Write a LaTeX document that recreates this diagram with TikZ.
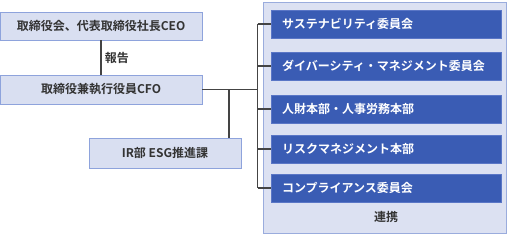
\documentclass[tikz,border=0pt]{standalone}
\usepackage{fontspec}
\setmainfont{Noto Sans CJK JP}[BoldFont={Noto Sans CJK JP Bold}]
\usetikzlibrary{positioning}

\definecolor{lightbox}{HTML}{D9DFF1}
\definecolor{boxline}{HTML}{8EA3DC}
\definecolor{panelfill}{HTML}{DCE1F2}
\definecolor{panelline}{HTML}{9AACDD}
\definecolor{unitblue}{HTML}{3A5CB4}
\definecolor{unitline}{HTML}{5A76C6}
\definecolor{textdark}{HTML}{333333}
\definecolor{wire}{HTML}{444444}

\begin{document}
\begin{tikzpicture}[x=1pt,y=-1pt,font=\bfseries\fontsize{12}{14}\selectfont]
  \tikzstyle{exec}=[draw=boxline,fill=lightbox,text=textdark,minimum height=28pt,inner sep=0pt,line width=.8pt]
  \tikzstyle{unit}=[draw=unitline,fill=unitblue,text=white,text width=208pt,inner xsep=11pt,inner ysep=0pt,minimum height=28pt,align=left,line width=.8pt]
  \tikzstyle{wire}=[draw=wire,line width=1.1pt]
  \useasboundingbox (0,0) rectangle (507,240);
  % right panel
  \node[draw=panelline,fill=panelfill,line width=.9pt,minimum width=243pt,minimum height=231pt,inner sep=0pt] (panel) at (384.5,117.5) {};
  \node[text=textdark] (link) at (386,217) {連携};
  \foreach \i / \y / \txt in {1/24/サステナビリティ委員会,2/66/ダイバーシティ・マネジメント委員会,3/109/人財本部・人事労務本部,4/149/リスクマネジメント本部,5/188/コンプライアンス委員会}
     \node[unit] (s\i) at (386,\y) {\txt};
  % left side
  \node[exec,minimum width=202pt] (ceo) at (101,26) {取締役会、代表取締役社長CEO};
  \node[exec,minimum width=202pt,minimum height=29pt] (cfo) at (101,89.5) {取締役兼執行役員CFO};
  \node[exec,minimum width=152pt,minimum height=30pt] (ir) at (165,153) {IR部 ESG推進課};
  \coordinate (bus) at (257.5,0);
  \coordinate (tap) at (229,0);
  \draw[wire] (ceo) -- node[right,text=textdark] {報告} (cfo);
  \draw[wire] (cfo.east) -- (cfo.east -| bus);
  \draw[wire] (cfo.east -| tap) -- (ir.north -| tap);
  \draw[wire] (bus |- s1.west) -- (bus |- s5.west);
  \foreach \i in {1,...,5}
     \draw[wire] (bus |- s\i.west) -- (s\i.west);
\end{tikzpicture}
\end{document}
